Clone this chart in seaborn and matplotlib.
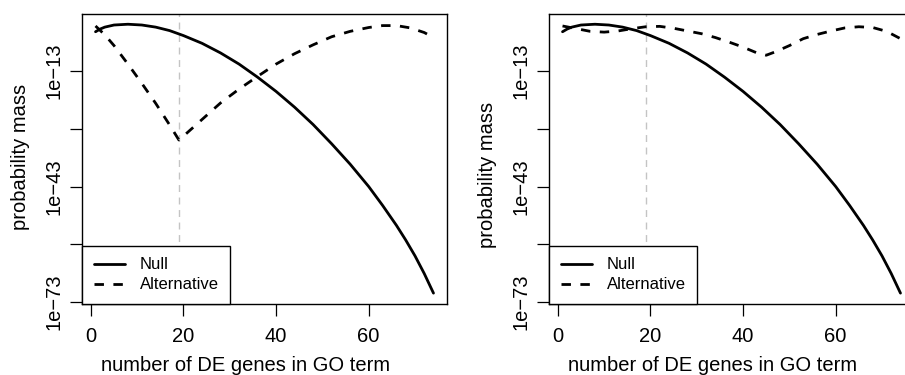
import matplotlib
matplotlib.use("Agg")
import matplotlib.pyplot as plt
from matplotlib.ticker import NullLocator
import seaborn as sns
import numpy as np
import pandas as pd

# 读图得到的数值（log10 概率质量）
x_null = [1, 2, 3, 5, 8, 11, 14, 17, 20, 24, 28, 32, 36, 40, 44, 48, 52,
          56, 60, 63, 66, 68, 70, 72, 74]
null_log10 = [-2.8, -2.1, -1.6, -1.05, -0.85, -1.05, -1.6, -2.5, -3.8, -5.8,
              -8.3, -11.2, -14.6, -18.3, -22.4, -26.9, -31.9, -37.2, -43.0,
              -47.9, -53.1, -56.9, -61.0, -65.6, -70.7]

x_alt_left = [1, 3, 5, 8, 11, 14, 17, 19, 20, 24, 28, 32, 36, 40, 44, 48,
              52, 56, 60, 63, 66, 69, 72, 74]
alt_left_log10 = [-1.3, -3.6, -6.4, -11.2, -16.2, -21.4, -27.0, -30.9, -29.9,
                  -25.6, -21.3, -17.7, -14.4, -11.2, -8.5, -6.2, -4.1, -2.7,
                  -1.7, -1.2, -1.2, -1.8, -3.0, -4.3]

x_alt_right = [1, 4, 7, 10, 13, 16, 19, 22, 25, 28, 31, 34, 37, 40, 43, 45,
               47, 50, 53, 56, 59, 62, 65, 68, 71, 74]
alt_right_log10 = [-1.3, -2.0, -2.7, -2.9, -2.6, -2.0, -1.5, -1.4, -1.9, -2.6,
                   -3.3, -4.3, -5.5, -6.8, -8.3, -8.9, -8.0, -6.4, -4.6, -3.5,
                   -2.6, -1.8, -1.5, -1.7, -2.7, -4.6]

cutoff = 19
x_ticks = [0, 20, 40, 60]
y_ticks = [1e-13, 1e-28, 1e-43, 1e-58, 1e-73]
y_tick_labels = ["1e\u221213", "", "1e\u221243", "", "1e\u221273"]

sns.set_style("ticks")
plt.rcParams['font.family'] = ['Liberation Sans', 'DejaVu Sans']
plt.rcParams['text.color'] = 'black'
plt.rcParams['axes.labelcolor'] = 'black'

fig = plt.figure(figsize=(9.05, 3.75), dpi=100)
ax_l = fig.add_axes([82 / 905, 71 / 375, 365 / 905, 290 / 375])
ax_r = fig.add_axes([549 / 905, 71 / 375, 365 / 905, 290 / 375])

null_df = pd.DataFrame({"x": x_null, "p": np.power(10.0, null_log10)})
panels = [
    (ax_l, x_alt_left, alt_left_log10, 0.507),
    (ax_r, x_alt_right, alt_right_log10, 0.445),
]

for ax, xa, ya, ylab_y in panels:
    alt_df = pd.DataFrame({"x": xa, "p": np.power(10.0, ya)})
    ax.axvline(cutoff, color="#c4c4c4", lw=1.0, ls=(0, (5, 4)), zorder=1)
    sns.lineplot(data=null_df, x="x", y="p", ax=ax, color="black", lw=2.0,
                 label="Null", zorder=3)
    sns.lineplot(data=alt_df, x="x", y="p", ax=ax, color="black", lw=2.0,
                 linestyle=(0, (3.4, 3.4)), label="Alternative", zorder=3)

    ax.set_yscale("log")
    ax.set_xlim(-1.92, 76.92)
    ax.set_ylim(10 ** -73.52, 10 ** 1.81)
    ax.set_xticks(x_ticks)
    ax.set_xticklabels([str(t) for t in x_ticks])
    ax.set_yticks(y_ticks)
    ax.set_yticklabels(y_tick_labels, rotation=90, va="center")
    ax.yaxis.set_minor_locator(NullLocator())

    ax.tick_params(axis="both", direction="out", length=8.6, width=0.9,
                   labelsize=14.5, colors="black")
    ax.tick_params(axis="x", pad=8)
    ax.tick_params(axis="y", pad=5)
    for sp in ax.spines.values():
        sp.set_color("black")
        sp.set_linewidth(1.0)

    ax.set_xlabel("number of DE genes in GO term", fontsize=14.5)
    ax.set_ylabel("probability mass", fontsize=14.5)
    ax.xaxis.set_label_coords(0.448, -0.18)
    ax.yaxis.set_label_coords(-0.142, ylab_y)

    leg = ax.legend(loc="lower left", bbox_to_anchor=(0, 0), borderaxespad=0,
                    frameon=True, fancybox=False, framealpha=1,
                    facecolor="white", edgecolor="black", fontsize=12,
                    handlelength=1.9, handletextpad=0.85, borderpad=0.7,
                    labelspacing=0.3)
    leg.get_frame().set_linewidth(1.0)
    leg.set_zorder(5)

fig.savefig("out.png", dpi=100)
